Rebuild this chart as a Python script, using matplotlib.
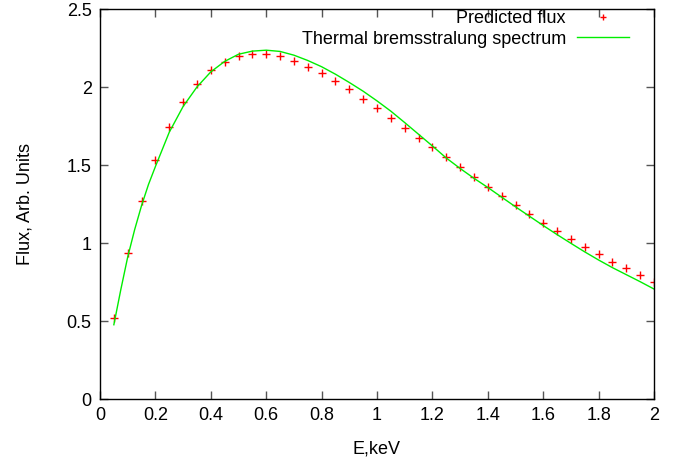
import matplotlib
matplotlib.use("Agg")
import matplotlib.pyplot as plt

plt.rcParams["font.family"] = ["Liberation Sans", "DejaVu Sans"]

# Predicted flux points
e_pts = [0.05, 0.10, 0.15, 0.20, 0.25, 0.30, 0.35, 0.40, 0.45, 0.50,
         0.55, 0.60, 0.65, 0.70, 0.75, 0.80, 0.85, 0.90, 0.95, 1.00,
         1.05, 1.10, 1.15, 1.20, 1.25, 1.30, 1.35, 1.40, 1.45, 1.50,
         1.55, 1.60, 1.65, 1.70, 1.75, 1.80, 1.85, 1.90, 1.95, 2.00]
flux_pts = [0.52, 0.936, 1.268, 1.534, 1.744, 1.902, 2.02, 2.106, 2.161, 2.198,
            2.213, 2.213, 2.196, 2.168, 2.13, 2.089, 2.037, 1.984, 1.924, 1.866,
            1.801, 1.74, 1.675, 1.613, 1.549, 1.487, 1.424, 1.36, 1.30, 1.242,
            1.187, 1.131, 1.078, 1.024, 0.975, 0.928, 0.88, 0.837, 0.795, 0.752]

# Thermal bremsstrahlung curve
e_curve = [0.05, 0.075, 0.10, 0.125, 0.15, 0.175, 0.20, 0.25, 0.30, 0.35,
           0.40, 0.45, 0.50, 0.55, 0.60, 0.65, 0.70, 0.75, 0.80, 0.85,
           0.90, 0.95, 1.00, 1.05, 1.10, 1.15, 1.20, 1.25, 1.30, 1.35,
           1.40, 1.45, 1.50, 1.55, 1.60, 1.65, 1.70, 1.75, 1.80, 1.85,
           1.90, 1.95, 2.00]
flux_curve = [0.476, 0.70, 0.91, 1.085, 1.24, 1.375, 1.49, 1.71, 1.875, 2.0,
              2.097, 2.164, 2.21, 2.23, 2.236, 2.228, 2.204, 2.17, 2.13, 2.082,
              2.029, 1.973, 1.911, 1.845, 1.772, 1.697, 1.622, 1.545, 1.478, 1.415,
              1.356, 1.294, 1.232, 1.172, 1.112, 1.054, 0.998, 0.943, 0.891, 0.842,
              0.797, 0.752, 0.705]

fig = plt.figure(figsize=(6.91, 4.63), dpi=100)
ax = fig.add_axes([100/691, 1 - 399/463, 554/691, 390/463])

ax.plot(e_pts, flux_pts, "+", color="red", markersize=6, markeredgewidth=1.0,
        label="Predicted flux")
ax.plot(e_curve, flux_curve, "-", color="#00ee00", linewidth=1.0,
        label="Thermal bremsstralung spectrum")

ax.set_xlim(0, 2)
ax.set_ylim(0, 2.5)
ax.set_xticks([0, 0.2, 0.4, 0.6, 0.8, 1, 1.2, 1.4, 1.6, 1.8, 2])
ax.set_xticklabels(["0", "0.2", "0.4", "0.6", "0.8", "1", "1.2", "1.4", "1.6", "1.8", "2"])
ax.set_yticks([0, 0.5, 1, 1.5, 2, 2.5])
ax.set_yticklabels(["0", "0.5", "1", "1.5", "2", "2.5"])
ax.tick_params(direction="in", top=True, right=True, length=6, width=1,
               labelsize=13, pad=6, color="#555555")
for s in ax.spines.values():
    s.set_linewidth(1.0)
    s.set_color("black")

ax.set_xlabel("E,keV", fontsize=13, labelpad=12)
ax.set_ylabel("Flux, Arb. Units", fontsize=13, labelpad=24)

ax.legend(loc="upper right", bbox_to_anchor=(1 - 25/554, 1 - 1/390), frameon=False,
          markerfirst=False, fontsize=13, handlelength=2.9, handletextpad=0.6,
          labelspacing=0.2, borderpad=0, borderaxespad=0, numpoints=1,
          markerscale=0.8)

fig.savefig("out.png", dpi=100)
